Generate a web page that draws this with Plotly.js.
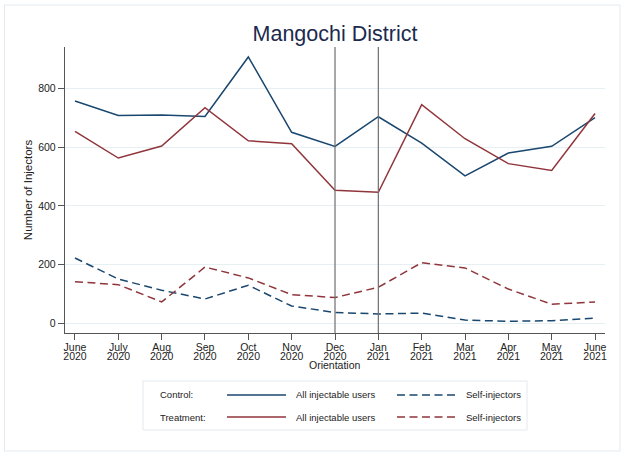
<!DOCTYPE html>
<html>
<head>
<meta charset="utf-8">
<script src="https://cdn.plot.ly/plotly-3.0.1.min.js"></script>
<style>html,body{margin:0;padding:0;background:#fff;}#chart{width:625px;height:456px;}</style>
</head>
<body>
<div id="chart"></div>
<script>
const months = ["June","July","Aug","Sep","Oct","Nov","Dec","Jan","Feb","Mar","Apr","May","June"];
const years = ["2020","2020","2020","2020","2020","2020","2020","2021","2021","2021","2021","2021","2021"];
const controlAll = [758,708,710,705,908,651,603,704,614,502,580,603,701];
const treatmentAll = [654,563,604,735,622,612,453,446,745,629,544,521,715];
const controlSelf = [222,150,112,82,129,58,36,31,34,10,6,8,17];
const treatmentSelf = [141,131,72,191,154,97,87,122,206,188,116,64,72];
const yTicks = [0,200,400,600,800];
const markerMonths = [6,7]; // Dec 2020 (orientation), Jan 2021

const idx = months.map((_, i) => i);
const BLUE = "#1a476f", RED = "#90353b";
const FONT = "Liberation Sans, Arial, sans-serif";
const DASH = "8px,4.5px";

const W = 625, H = 456, L = 65, R = 20, T = 47, B = 123;
const PW = W - L - R, PH = H - T - B;
const px = x => (x - L) / PW;
const py = y => (H - B - y) / PH;
const yrange = [-34, 942];
const xrange = [-0.23, 12.23];

const traces = [
  {x: idx, y: controlAll, mode: "lines", line: {color: BLUE, width: 1.5}, name: "Control: All injectable users"},
  {x: idx, y: controlSelf, mode: "lines", line: {color: BLUE, width: 1.5, dash: DASH}, name: "Control: Self-injectors"},
  {x: idx, y: treatmentAll, mode: "lines", line: {color: RED, width: 1.5}, name: "Treatment: All injectable users"},
  {x: idx, y: treatmentSelf, mode: "lines", line: {color: RED, width: 1.5, dash: DASH}, name: "Treatment: Self-injectors"},
  {x: idx, y: idx.map(() => null), xaxis: "x2", mode: "lines", showlegend: false, hoverinfo: "skip"}
];

const shapes = [];
markerMonths.forEach(m => shapes.push({type: "line", xref: "x", yref: "y", x0: m, x1: m, y0: yrange[0], y1: yrange[1], line: {color: "#6e6e6e", width: 1.2}}));
// outer frame
shapes.push({type: "rect", xref: "paper", yref: "paper", x0: px(4.5), x1: px(620), y0: py(451), y1: py(5), line: {color: "#e4eaef", width: 1}, layer: "below"});
// legend box
shapes.push({type: "rect", xref: "paper", yref: "paper", x0: px(143), x1: px(527), y0: py(430), y1: py(381), line: {color: "#e4eaef", width: 1}, fillcolor: "#ffffff"});
const rows = [{label: "Control:", color: BLUE, y: 395}, {label: "Treatment:", color: RED, y: 417}];
const annotations = [];
const legFont = {family: FONT, size: 9.5, color: "#222"};
rows.forEach(r => {
  shapes.push({type: "line", xref: "paper", yref: "paper", x0: px(227), x1: px(286), y0: py(r.y), y1: py(r.y), line: {color: r.color, width: 1.5}});
  shapes.push({type: "line", xref: "paper", yref: "paper", x0: px(397), x1: px(455), y0: py(r.y), y1: py(r.y), line: {color: r.color, width: 1.5, dash: DASH}});
  annotations.push({xref: "paper", yref: "paper", x: px(158), y: py(r.y), xanchor: "left", yanchor: "middle", text: r.label, showarrow: false, font: legFont});
  annotations.push({xref: "paper", yref: "paper", x: px(294), y: py(r.y), xanchor: "left", yanchor: "middle", text: "All injectable users", showarrow: false, font: legFont});
  annotations.push({xref: "paper", yref: "paper", x: px(464), y: py(r.y), xanchor: "left", yanchor: "middle", text: "Self-injectors", showarrow: false, font: legFont});
});
annotations.push({xref: "x", yref: "paper", x: markerMonths[0], y: py(364.8), xanchor: "center", yanchor: "middle", text: "Orientation", showarrow: false, font: {family: FONT, size: 10.5, color: "#222"}});

const layout = {
  width: W, height: H,
  margin: {l: L, r: R, t: T, b: B},
  paper_bgcolor: "#ffffff", plot_bgcolor: "#ffffff",
  showlegend: false,
  font: {family: FONT, color: "#222"},
  title: {text: "Mangochi District", x: 0.5, xref: "paper", xanchor: "center", y: 1 - 33 / H, yanchor: "middle", font: {family: FONT, size: 21.5, color: "#1c2a4e"}},
  xaxis: {range: xrange, tickmode: "array", tickvals: idx, ticktext: months, showgrid: false, zeroline: false,
          showline: true, linecolor: "#555", linewidth: 1.2, ticks: "outside", ticklen: 6, tickcolor: "#555",
          ticklabelstandoff: -2, tickfont: {family: FONT, size: 10.5, color: "#222"}, fixedrange: true},
  xaxis2: {range: xrange, overlaying: "x", anchor: "y", side: "bottom", tickmode: "array", tickvals: idx, ticktext: years,
           showgrid: false, zeroline: false, showline: false, ticks: "", ticklabelstandoff: 15,
           tickfont: {family: FONT, size: 10.5, color: "#222"}},
  yaxis: {range: yrange, tickmode: "array", tickvals: yTicks, ticktext: yTicks.map(String),
          showgrid: true, gridcolor: "#e6f0f3", gridwidth: 1, zeroline: false,
          showline: true, linecolor: "#555", linewidth: 1.2, ticks: "outside", ticklen: 6, tickcolor: "#555",
          tickfont: {family: FONT, size: 10.5, color: "#222"},
          title: {text: "Number of Injectors", font: {family: FONT, size: 11.5, color: "#222"}, standoff: 3}},
  shapes: shapes,
  annotations: annotations
};
Plotly.newPlot("chart", traces, layout, {displayModeBar: false, staticPlot: true});
</script>
</body>
</html>
